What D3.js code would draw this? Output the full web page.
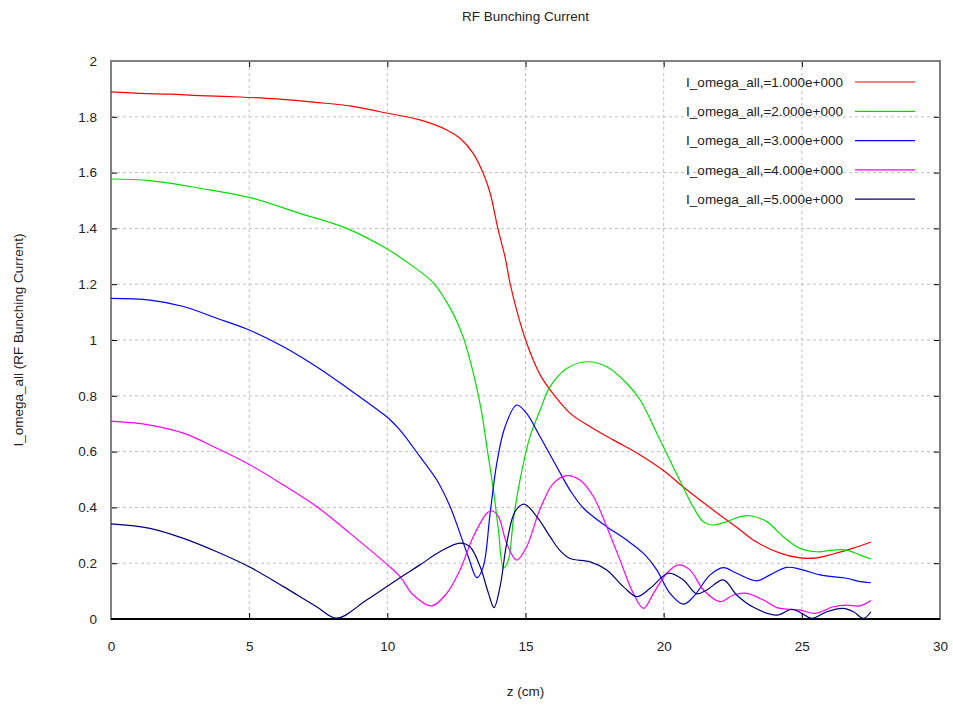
<!DOCTYPE html>
<html>
<head>
<meta charset="utf-8">
<script src="https://cdn.jsdelivr.net/npm/d3@7"></script>
<style>
  body { margin: 0; background: #fff; }
  text { font-family: "Liberation Sans", Arial, sans-serif; font-size: 13.5px; fill: #222; }
</style>
</head>
<body>
<div id="chart"></div>
<script>
// [z, value] pairs for each harmonic
var s1 = [[0,1.889],[1.05,1.884],[2.14,1.881],[3.2,1.876],[4.67,1.871],[6,1.864],[7.5,1.851],[8.7,1.838],[9.74,1.818],[11.18,1.789],[12.15,1.753],[12.63,1.723],[13.1,1.67],[13.47,1.598],[13.72,1.527],[14.0,1.40],[14.26,1.297],[14.44,1.204],[14.68,1.107],[14.98,1.007],[15.28,0.928],[15.53,0.875],[15.89,0.821],[16.61,0.738],[17.34,0.689],[18.17,0.642],[19.15,0.588],[20.05,0.528],[20.7,0.474],[21.8,0.39],[22.77,0.319],[23.24,0.283],[24.21,0.236],[24.93,0.219],[25.54,0.219],[26.13,0.233],[26.86,0.254],[27.5,0.276]];
var s2 = [[0,1.577],[1.41,1.571],[3.22,1.544],[5.0,1.511],[6.84,1.454],[8.53,1.40],[10.01,1.325],[10.94,1.263],[11.67,1.204],[12.27,1.115],[12.74,1.012],[12.99,0.928],[13.17,0.857],[13.42,0.737],[13.6,0.618],[13.84,0.462],[14.02,0.319],[14.2,0.182],[14.38,0.211],[14.56,0.355],[14.8,0.498],[15.16,0.653],[15.53,0.749],[15.89,0.833],[16.49,0.898],[17.22,0.922],[17.94,0.904],[18.66,0.845],[19.15,0.785],[19.75,0.666],[20.34,0.546],[20.7,0.474],[21.06,0.403],[21.43,0.349],[21.79,0.337],[22.28,0.349],[22.77,0.367],[23.13,0.370],[23.73,0.349],[24.33,0.295],[24.94,0.253],[25.54,0.241],[26.13,0.247],[26.62,0.247],[27.11,0.229],[27.5,0.215]];
var s3 = [[0,1.149],[1.41,1.143],[2.62,1.12],[3.83,1.078],[5.0,1.036],[6.24,0.976],[7.44,0.904],[8.65,0.821],[9.74,0.743],[10.01,0.722],[10.46,0.677],[11.18,0.582],[11.79,0.498],[12.27,0.403],[12.63,0.307],[12.93,0.223],[13.24,0.148],[13.47,0.187],[13.72,0.379],[13.96,0.558],[14.26,0.689],[14.68,0.767],[15.04,0.737],[15.53,0.653],[16.13,0.546],[16.61,0.462],[17.1,0.397],[17.94,0.331],[18.66,0.283],[19.27,0.235],[19.75,0.176],[20.23,0.092],[20.71,0.053],[21.08,0.08],[21.68,0.158],[22.16,0.184],[22.64,0.164],[23.37,0.137],[23.85,0.158],[24.45,0.185],[24.93,0.179],[25.66,0.158],[26.63,0.146],[27.11,0.134],[27.5,0.130]];
var s4 = [[0,0.709],[1.41,0.695],[2.62,0.666],[3.83,0.612],[5.0,0.554],[6.24,0.48],[7.44,0.403],[8.65,0.307],[10.01,0.194],[10.46,0.152],[10.94,0.086],[11.6,0.047],[12.15,0.092],[12.63,0.176],[13.11,0.295],[13.6,0.379],[13.78,0.388],[14.02,0.367],[14.32,0.271],[14.68,0.211],[15.04,0.259],[15.53,0.395],[16.01,0.486],[16.49,0.514],[16.97,0.498],[17.46,0.438],[17.94,0.331],[18.42,0.211],[18.9,0.092],[19.27,0.038],[19.63,0.092],[20.11,0.164],[20.53,0.194],[20.95,0.176],[21.44,0.104],[22.04,0.062],[22.52,0.086],[23.0,0.092],[23.61,0.068],[24.09,0.041],[24.93,0.032],[25.48,0.020],[26.14,0.044],[26.63,0.050],[27.11,0.047],[27.5,0.066]];
var s5 = [[0,0.341],[1.41,0.325],[2.62,0.289],[3.83,0.241],[5.0,0.187],[6.24,0.116],[7.44,0.044],[8.17,0.003],[9.25,0.068],[10.46,0.148],[11.18,0.194],[11.9,0.241],[12.63,0.272],[12.99,0.259],[13.36,0.187],[13.66,0.092],[13.86,0.041],[14.08,0.116],[14.32,0.271],[14.62,0.385],[14.95,0.412],[15.41,0.367],[15.89,0.295],[16.25,0.245],[16.61,0.217],[17.34,0.205],[17.94,0.176],[18.54,0.116],[19.03,0.08],[19.51,0.11],[20.17,0.164],[20.71,0.14],[21.2,0.09],[21.56,0.104],[22.16,0.14],[22.64,0.086],[23.25,0.042],[24.09,0.014],[24.64,0.035],[25.0,0.02],[25.36,0.002],[25.9,0.026],[26.5,0.038],[26.87,0.026],[27.23,0.002],[27.5,0.026]];

var seriesNames = ["I_omega_all,=1.000e+000","I_omega_all,=2.000e+000","I_omega_all,=3.000e+000","I_omega_all,=4.000e+000","I_omega_all,=5.000e+000"];
var seriesColors = ["#ff0000","#00e000","#0000ff","#ff00ff","#000080"];
var xTicks = [0,5,10,15,20,25,30];
var yTicks = [0,0.2,0.4,0.6,0.8,1,1.2,1.4,1.6,1.8,2];

(function(){
  var width = 953, height = 705;
  var mLeft = 111, mRight = 940, mTop = 61, mBottom = 619;

  var svg = d3.select("#chart").append("svg")
    .attr("width", width)
    .attr("height", height);

  var x = d3.scaleLinear().domain([0, 30]).range([mLeft, mRight]);
  var y = d3.scaleLinear().domain([0, 2]).range([mBottom, mTop]);

  // grid
  svg.append("g").selectAll("line")
    .data(xTicks.slice(1, -1)).enter().append("line")
    .attr("x1", d => x(d)).attr("x2", d => x(d))
    .attr("y1", mTop).attr("y2", mBottom)
    .attr("stroke", "#c0c0c0").attr("stroke-dasharray", "3,3");
  svg.append("g").selectAll("line")
    .data(yTicks.slice(1, -1)).enter().append("line")
    .attr("x1", mLeft).attr("x2", mRight)
    .attr("y1", d => y(d)).attr("y2", d => y(d))
    .attr("stroke", "#c0c0c0").attr("stroke-dasharray", "3,3");

  // axes, ticks pointing inward
  var xAxis = svg.append("g")
    .attr("transform", "translate(0," + mBottom + ")")
    .call(d3.axisBottom(x).tickValues(xTicks).tickSize(-6).tickPadding(22).tickFormat(d3.format("d")));
  var xTopAxis = svg.append("g")
    .attr("transform", "translate(0," + mTop + ")")
    .call(d3.axisTop(x).tickValues(xTicks).tickSize(-6).tickFormat(""));
  var yAxis = svg.append("g")
    .attr("transform", "translate(" + mLeft + ",0)")
    .call(d3.axisLeft(y).tickValues(yTicks).tickSize(-6).tickPadding(14).tickFormat(d => String(+d.toFixed(1))));
  var yRightAxis = svg.append("g")
    .attr("transform", "translate(" + mRight + ",0)")
    .call(d3.axisRight(y).tickValues(yTicks).tickSize(-6).tickFormat(""));

  [xAxis, xTopAxis, yAxis, yRightAxis].forEach(function(g){
    g.select(".domain").remove();
    g.selectAll(".tick line").attr("stroke", "#000");
    g.selectAll("text").style("font-family", "Liberation Sans, Arial, sans-serif").style("font-size", "13.5px").attr("fill", "#222");
  });

  // frame
  svg.append("rect")
    .attr("x", mLeft).attr("y", mTop)
    .attr("width", mRight - mLeft).attr("height", mBottom - mTop)
    .attr("fill", "none").attr("stroke", "#808080").attr("stroke-width", 2);
  svg.append("line")
    .attr("x1", mLeft).attr("x2", mRight).attr("y1", mBottom).attr("y2", mBottom)
    .attr("stroke", "#000").attr("stroke-width", 2);

  // curves
  var line = d3.line()
    .x(d => x(d[0]))
    .y(d => y(Math.max(0, d[1])))
    .curve(d3.curveCatmullRom.alpha(0.5));

  var allSeries = [s1, s2, s3, s4, s5];
  svg.append("g").selectAll("path")
    .data(allSeries).enter().append("path")
    .attr("d", line)
    .attr("fill", "none")
    .attr("stroke", (d, i) => seriesColors[i])
    .attr("stroke-width", 1.2);

  // legend
  var legend = svg.append("g").selectAll("g")
    .data(seriesNames).enter().append("g")
    .attr("transform", (d, i) => "translate(0," + (82 + i * 29.3) + ")");
  legend.append("text")
    .attr("x", 843).attr("dy", "0.35em")
    .attr("text-anchor", "end")
    .text(d => d);
  legend.append("line")
    .attr("x1", 855).attr("x2", 915)
    .attr("stroke", (d, i) => seriesColors[i])
    .attr("stroke-width", 1.2);

  // titles
  svg.append("text")
    .attr("x", (mLeft + mRight) / 2).attr("y", 21)
    .attr("text-anchor", "middle")
    .text("RF Bunching Current");
  svg.append("text")
    .attr("x", (mLeft + mRight) / 2).attr("y", 696)
    .attr("text-anchor", "middle")
    .text("z (cm)");
  svg.append("text")
    .attr("transform", "translate(23," + ((mTop + mBottom) / 2) + ") rotate(-90)")
    .attr("text-anchor", "middle")
    .text("I_omega_all (RF Bunching Current)");
})();
</script>
</body>
</html>
